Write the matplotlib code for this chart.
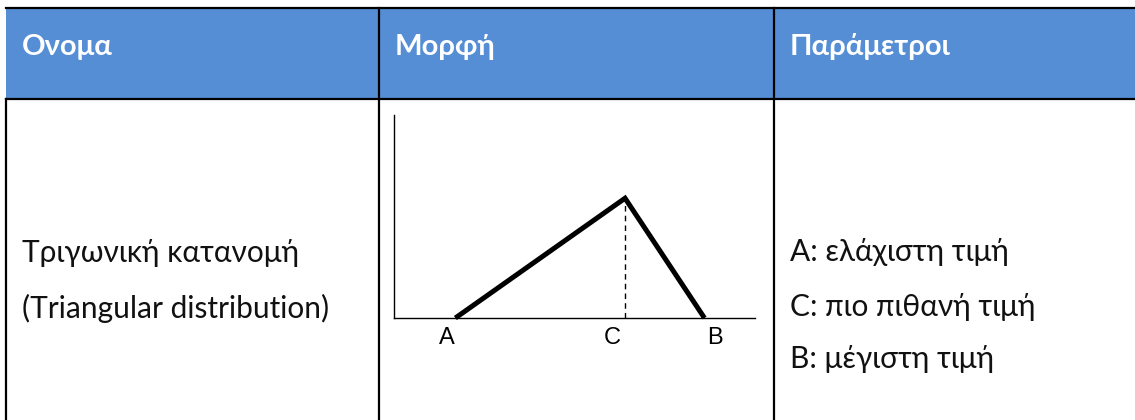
import matplotlib
matplotlib.use("Agg")
import matplotlib.pyplot as plt
from matplotlib.patches import Rectangle

# Table content
headers = ["Ονομα", "Μορφή", "Παράμετροι"]
name_lines = ["Τριγωνική κατανομή", "(Triangular distribution)"]
param_lines = ["A: ελάχιστη τιμή", "C: πιο πιθανή τιμή", "B: μέγιστη τιμή"]

# Triangular distribution sketch (arbitrary units)
tri_labels = ["A", "C", "B"]
tri_x = [1.7, 6.4, 8.6]      # A, C, B positions
tri_peak = 5.9               # height of the mode

plt.rcParams['font.family'] = ['Lato', 'Noto Sans', 'DejaVu Sans']

W, H = 1135, 420
fig = plt.figure(figsize=(W / 100, H / 100), dpi=100)
ax = fig.add_axes([0, 0, 1, 1])
ax.set_xlim(0, W)
ax.set_ylim(H, 0)
ax.axis("off")

blue = "#558ed5"
ax.add_patch(Rectangle((6, 8), W - 6, 91, facecolor=blue, edgecolor="none"))

lw = 1.6
ax.plot([6, W], [8, 8], color="black", lw=lw)
ax.plot([6, W], [99, 99], color="black", lw=lw)
ax.plot([6, 6], [99, H], color="black", lw=lw)
for xd in [379, 774]:
    ax.plot([xd, xd], [8, H], color="black", lw=lw)

# header
col_x = [22, 395, 790]
for x, h in zip(col_x, headers):
    ax.text(x, 55.5, h, color="white", fontsize=21, fontweight="bold",
            ha="left", va="baseline")

# first column
for y, t in zip([262, 318], name_lines):
    ax.text(22, y, t, fontsize=21.5, ha="left", va="baseline", color="#111111")

# third column
for y, t in zip([261, 316, 368], param_lines):
    ax.text(790, y, t, fontsize=21.5, ha="left", va="baseline", color="#111111")

# diagram in its own axes: left 394, right 755, bottom 318, top 115 (pixels)
dx0, dx1, dy0, dy1 = 394, 755, 318, 115
dax = fig.add_axes([dx0 / W, 1 - dy0 / H, (dx1 - dx0) / W, (dy0 - dy1) / H])
dax.set_xlim(0, 10)
dax.set_ylim(0, 10)
dax.set_xticks([])
dax.set_yticks([])
for s in ["top", "right"]:
    dax.spines[s].set_visible(False)
for s in ["left", "bottom"]:
    dax.spines[s].set_linewidth(1.0)
dax.patch.set_alpha(0)

a, c, b = tri_x
dax.plot([a, c, b], [0, tri_peak, 0], color="black", lw=3.6,
         solid_joinstyle="miter", solid_capstyle="butt", clip_on=False)
dax.plot([c, c], [0, tri_peak], color="black", lw=1.0, ls=(0, (4, 3)))

label_dx = [-0.25, -0.35, 0.3]
for lab, xv, d in zip(tri_labels, tri_x, label_dx):
    dax.text(xv + d, -1.0, lab, fontsize=17, family="Liberation Sans",
             ha="center", va="center")

fig.savefig("out.png", dpi=100)
